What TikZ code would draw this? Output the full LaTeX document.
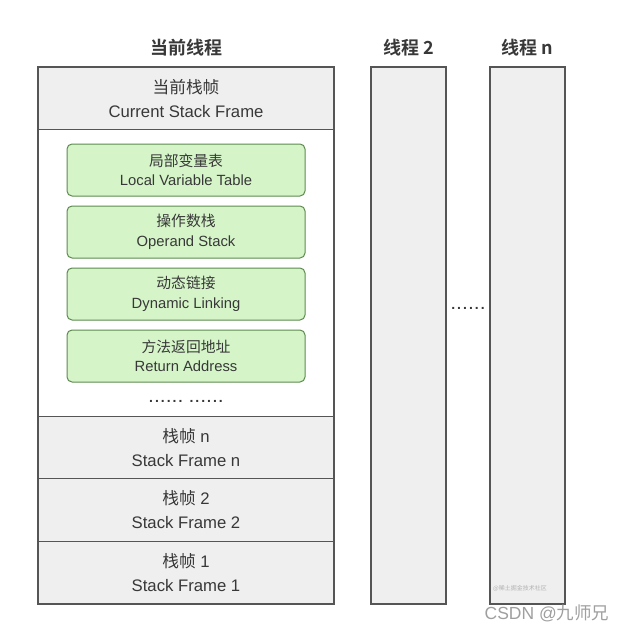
\documentclass[tikz,border=0pt]{standalone}
\usepackage{fontspec}
\setmainfont{Liberation Sans}
\newfontfamily\cjk{Noto Sans CJK SC}[BoldFont={Noto Sans CJK SC Bold}]
\definecolor{framegray}{HTML}{EFEFEF}
\definecolor{lineg}{HTML}{555555}
\definecolor{txt}{HTML}{383838}
\definecolor{slotgreen}{HTML}{D5F5C9}
\definecolor{slotline}{HTML}{5E8A50}
\newcommand\dd{.\hspace{2pt}}
\begin{document}
\begin{tikzpicture}[x=1pt, y=-1pt, text=txt,
  thread/.style={rectangle, draw=lineg, line width=1.2pt, minimum width=#1, minimum height=537pt, inner sep=0pt},
  frame/.style={rectangle, draw=lineg, line width=1.2pt, fill=framegray, minimum width=296pt, minimum height=62.5pt, align=center, font=\fontsize{16.7}{24}\selectfont},
  slot/.style={rectangle, rounded corners=5pt, draw=slotline, line width=1pt, fill=slotgreen, minimum width=238pt, minimum height=52pt, align=center, font=\fontsize{14.8}{19.5}\selectfont},
  title/.style={font=\cjk\bfseries\fontsize{18}{20}\selectfont},
  dots/.style={font=\bfseries\fontsize{14}{16}\selectfont, text=txt}]
\useasboundingbox (0,0) rectangle (628,634);
% threads
\node[thread=296pt, fill=white] (t1) at (186,335.5) {};
\node[thread=75pt, fill=framegray] (t2) at (408.5,335.5) {};
\node[thread=75pt, fill=framegray] (tn) at (527.5,335.5) {};
\node[title] (h1) at (186,48) {当前线程};
\node[title] (h2) at (408.5,48) {线程 2};
\node[title] (hn) at (527.5,48) {线程 n};
% stack frames
\node[frame] (cur) at (186,98.5) {{\cjk 当前栈帧}\\Current Stack Frame};
\node[frame] (fn) at (186,447.5) {{\cjk 栈帧} n\\Stack Frame n};
\node[frame] (f2) at (186,510) {{\cjk 栈帧} 2\\Stack Frame 2};
\node[frame] (f1) at (186,572.5) {{\cjk 栈帧} 1\\Stack Frame 1};
% current frame content
\node[slot] (lvt) at (186,170) {{\cjk 局部变量表}\\Local Variable Table};
\node[slot] (ops) at (186,232) {{\cjk 操作数栈}\\Operand Stack};
\node[slot] (dyn) at (186,294) {{\cjk 动态链接}\\Dynamic Linking};
\node[slot] (ret) at (186,356) {{\cjk 方法返回地址}\\Return Address};
\node[dots] (more) at (186,401) {\dd\dd\dd\dd\dd.\hspace{7pt}\dd\dd\dd\dd\dd.};
\node[dots] (gap) at (468,308) {\dd\dd\dd\dd\dd.};
% watermarks
\node[text=gray!60, font=\cjk\fontsize{6}{7}\selectfont] (wm1) at (520,588) {@稀土掘金技术社区};
\node[text=gray!75, font=\fontsize{17.5}{19}\selectfont] (wm2) at (547,613) {CSDN @{\cjk 九师兄}};
\end{tikzpicture}
\end{document}
